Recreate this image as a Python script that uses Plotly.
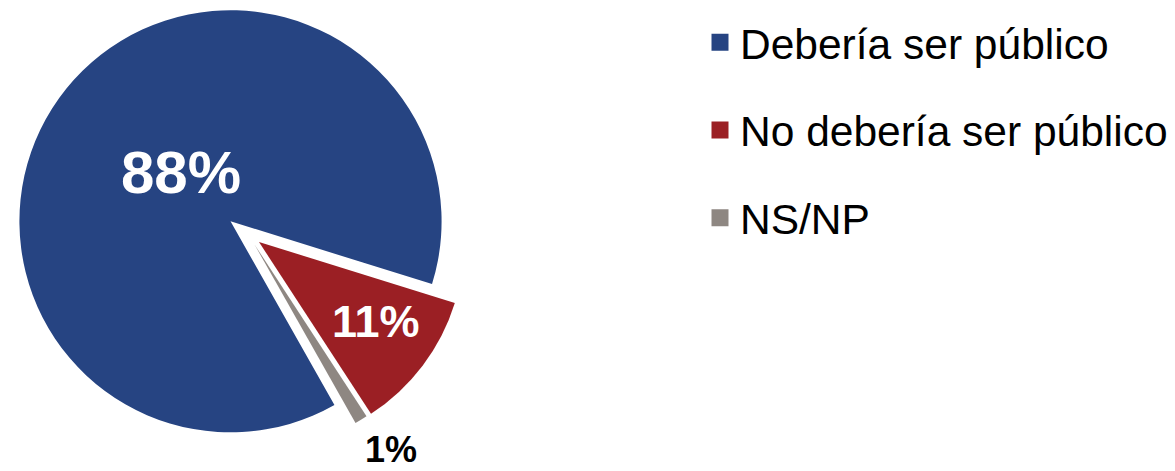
import math
import plotly.graph_objects as go

# ---------------- data ----------------
labels = ["Debería ser público", "No debería ser público", "NS/NP"]
values = [88, 11, 1]

# ---------------- styles / layout ----------------
colors = ["#264482", "#9B1F24", "#8E8782"]
PAGE_MARGIN = 8                      # default <body> margin of the html page
W, H = 1175 - PAGE_MARGIN, 471 - PAGE_MARGIN
FONT = "Liberation Sans, Arial, sans-serif"
CX, CY = 230.5, 220.2                # pie centre (page px)
ROTATION = 150.5                     # start of first slice, clockwise from 12 o'clock
RADII = [212, 206, 206]              # radius per slice (px)
OFFSETS = [(0, 0), (28.5, 20.8), (24, 23.3)]   # explode offsets per slice (px)
LABEL_K = [0.33, 0.688, 1.198]       # label distance / radius
LABEL_DA = [5.5, -2.7, -2.3]         # label angle tweak (deg)
LABEL_SIZE = [60, 45, 36]
LABEL_COLOR = ["white", "white", "black"]
TRANSPARENT = "rgba(0,0,0,0)"


def clamp(v):
    return min(1.0, max(0.0, v))


def fx(px):
    return (px - PAGE_MARGIN) / W


def fy(py):
    return 1 - (py - PAGE_MARGIN) / H


def domain(cx, cy, r):
    return dict(x=[clamp(fx(cx - r)), clamp(fx(cx + r))],
                y=[clamp(fy(cy + r)), clamp(fy(cy - r))])


fig = go.Figure()

# legend entries (tiny pies hidden beneath the main blue slice)
for i, lab in enumerate(labels):
    fig.add_trace(go.Pie(
        labels=[lab], values=[values[i]], sort=False,
        marker=dict(colors=[colors[i]], line=dict(color=[colors[i]], width=5)),
        domain=domain(110, 300, 2), textinfo="none", hoverinfo="skip",
        legendgroup=f"g{i}", showlegend=True,
    ))

# visible slices, each drawn from the same value arrays (angles come from the data)
total = sum(values)
cum = 0.0
for i, lab in enumerate(labels):
    slice_colors = [colors[j] if j == i else TRANSPARENT for j in range(len(labels))]
    dx, dy = OFFSETS[i]
    ccx, ccy = CX + dx, CY + dy
    fig.add_trace(go.Pie(
        labels=labels, values=values, sort=False, direction="clockwise",
        rotation=ROTATION,
        marker=dict(colors=slice_colors, line=dict(width=0)),
        domain=domain(ccx, ccy, RADII[i]),
        textinfo="none", hoverinfo="label+percent", showlegend=False,
        name=lab,
    ))
    mid = math.radians(ROTATION + (cum + values[i] / 2) / total * 360 + LABEL_DA[i])
    cum += values[i]
    d = LABEL_K[i] * RADII[i]
    px = ccx + d * math.sin(mid)
    py = ccy - d * math.cos(mid)
    pct = round(values[i] / total * 100)
    fig.add_annotation(
        x=fx(px), y=fy(py), xref="paper", yref="paper",
        text=f"{pct}%", showarrow=False, xanchor="center", yanchor="middle",
        font=dict(family=FONT, size=LABEL_SIZE[i], color=LABEL_COLOR[i], weight="bold"),
    )

fig.update_layout(
    width=W, height=H,
    margin=dict(l=0, r=0, t=0, b=0),
    paper_bgcolor="white", plot_bgcolor="white",
    legend=dict(
        x=fx(700), y=fy(5.5), xanchor="left", yanchor="top",
        font=dict(family=FONT, size=42.5, color="black"),
        traceorder="grouped", tracegroupgap=29.5,
        bgcolor="rgba(0,0,0,0)",
    ),
)

fig.write_html("out.html")
